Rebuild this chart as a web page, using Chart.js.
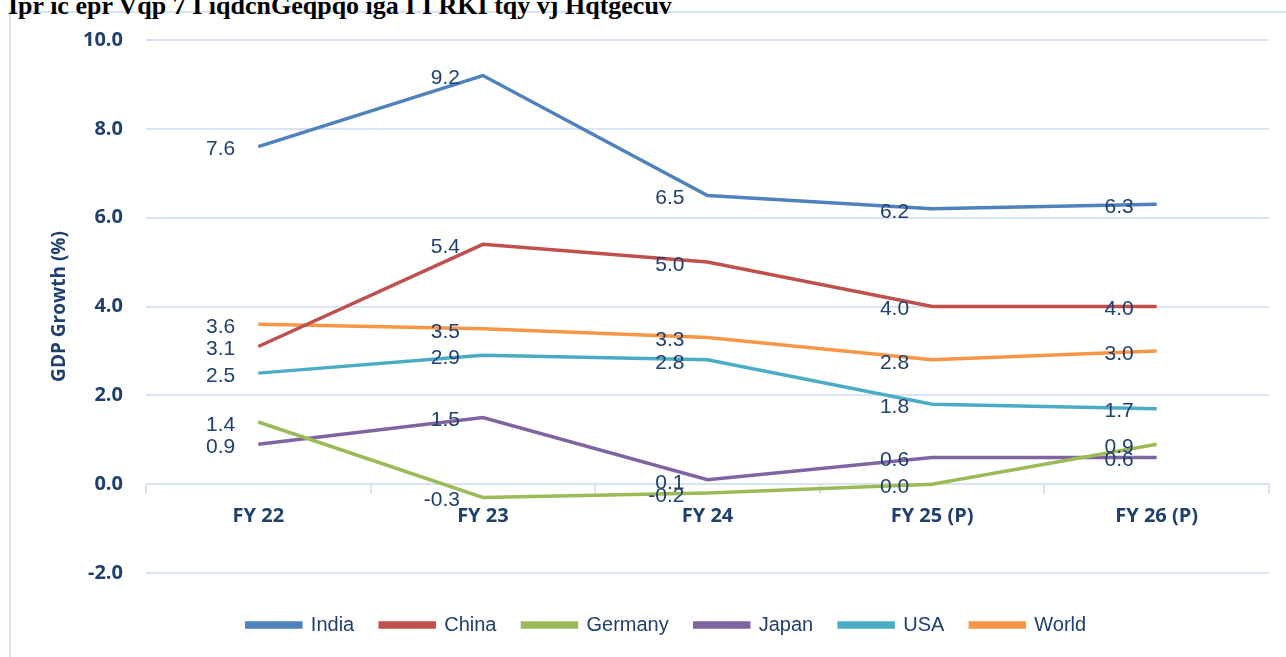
<!DOCTYPE html>
<html><head><meta charset="utf-8">
<script src="https://cdn.jsdelivr.net/npm/chart.js@4.4.1/dist/chart.umd.min.js"></script>
<style>
html,body{margin:0;padding:0;background:#fff;width:1286px;height:657px;overflow:hidden;}
#wrap{position:relative;width:1286px;height:657px;}
#frame{position:absolute;left:9px;top:11px;width:1290px;height:660px;border:2px solid #DAE3F3;box-sizing:border-box;}
#title{position:absolute;left:8px;top:-9px;font:bold 26px "Liberation Serif","Times New Roman",serif;color:#000;white-space:nowrap;line-height:30px;}
canvas{position:absolute;left:0;top:0;}
</style></head><body>
<div id="wrap">
<div id="frame"></div>
<div id="title">Ipr ic epr Vqp 7 I iqdcnGeqpqo iga I I RKI tqy vj Hqtgecuv</div>
<canvas id="c" width="1286" height="657"></canvas>
</div>
<script>
const categories = ["FY 22","FY 23","FY 24","FY 25 (P)","FY 26 (P)"];
const india   = [7.6, 9.2, 6.5, 6.2, 6.3];
const china   = [3.1, 5.4, 5.0, 4.0, 4.0];
const germany = [1.4, -0.3, -0.2, 0.0, 0.9];
const japan   = [0.9, 1.5, 0.1, 0.6, 0.6];
const usa     = [2.5, 2.9, 2.8, 1.8, 1.7];
const world   = [3.6, 3.5, 3.3, 2.8, 3.0];
const seriesNames = ["India","China","Germany","Japan","USA","World"];
const seriesColors = ["#4F81BD","#C0504D","#9BBB59","#8064A2","#4BACC6","#F79646"];
const seriesData = [india, china, germany, japan, usa, world];

const textColor = "#1F3F6E";
const gridColor = "#DAE3F3";

const labelPlugin = {
  id: "valueLabels",
  afterDatasetsDraw(chart) {
    const ctx = chart.ctx;
    ctx.save();
    ctx.font = '21px "Liberation Sans", Arial, sans-serif';
    ctx.fillStyle = textColor;
    ctx.textAlign = "right";
    ctx.textBaseline = "middle";
    chart.data.datasets.forEach((ds, i) => {
      const meta = chart.getDatasetMeta(i);
      meta.data.forEach((pt, j) => {
        ctx.fillText(ds.data[j].toFixed(1), pt.x - 23, pt.y + 3);
      });
    });
    ctx.restore();
  }
};

new Chart(document.getElementById("c"), {
  type: "line",
  data: {
    labels: categories,
    datasets: seriesData.map((d, i) => ({
      label: seriesNames[i],
      data: d,
      borderColor: seriesColors[i],
      backgroundColor: seriesColors[i],
      borderWidth: 3.5,
      pointRadius: 0,
      tension: 0,
      fill: false
    }))
  },
  options: {
    responsive: false,
    animation: false,
    layout: { padding: { top: 40, left: 64, right: 17, bottom: 12 } },
    plugins: {
      legend: {
        position: "bottom",
        title: { display: true, text: "", padding: 0, font: { size: 10, lineHeight: 1.6 } },
        labels: {
          boxWidth: 54,
          boxHeight: 4,
          padding: 26,
          color: textColor,
          font: { family: '"Liberation Sans", Arial, sans-serif', size: 20 }
        }
      },
      tooltip: { enabled: false },
      title: { display: false }
    },
    scales: {
      x: {
        position: { y: 0 },
        offset: true,
        grid: { display: true, drawOnChartArea: false, drawTicks: true, tickLength: 9, color: gridColor, lineWidth: 2, offset: true },
        border: { display: true, color: gridColor, width: 2 },
        ticks: { color: textColor, padding: 11, font: { family: '"Open Sans", sans-serif', size: 20, weight: "bold" } }
      },
      y: {
        min: -2, max: 10,
        afterFit(s) { s.width = 82; },
        ticks: { stepSize: 2, color: textColor, padding: 23,
          callback: v => Number(v).toFixed(1),
          font: { family: '"Open Sans", sans-serif', size: 20, weight: "bold" } },
        grid: { color: gridColor, lineWidth: 2, drawTicks: false },
        border: { display: false },
        title: { display: true, text: "GDP Growth (%)", color: textColor,
          font: { family: '"Open Sans", sans-serif', size: 19, weight: "bold" }, padding: { top: -16, bottom: 0 } }
      }
    }
  },
  plugins: [labelPlugin]
});
</script>
</body></html>
